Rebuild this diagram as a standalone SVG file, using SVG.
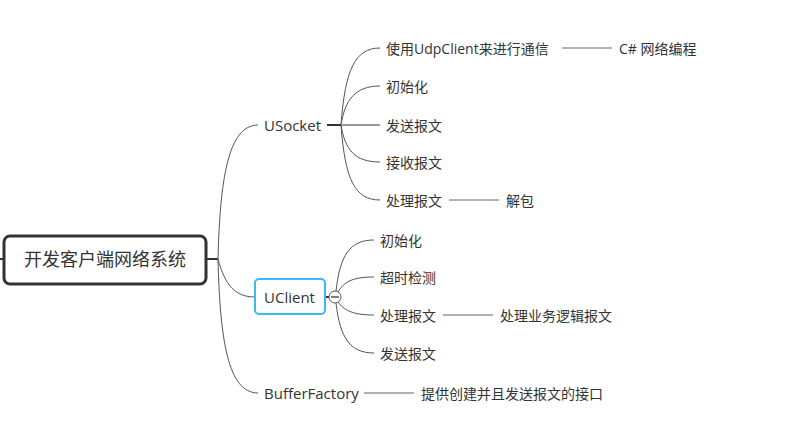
<svg xmlns="http://www.w3.org/2000/svg" width="810" height="430" viewBox="0 0 810 430">
<style>
text{font-family:"Open Sans","Noto Sans CJK SC",sans-serif;fill:#333;dominant-baseline:central}
.t{font-size:14px}
.m{font-size:15px}
.c{fill:none;stroke:#555;stroke-width:1}
.s{fill:none;stroke:#666;stroke-width:1}
</style>
<rect width="810" height="430" fill="#fff"/>
<g id="connectors">
<line x1="0" y1="259" x2="4" y2="259" stroke="#333" stroke-width="2"/>
<line x1="206" y1="259" x2="218" y2="259" stroke="#333" stroke-width="2"/>
<path class="c" d="M218 259 C220 180 228 125 258 125"/>
<path class="c" d="M218 259 C225 285 235 297 255 297"/>
<path class="c" d="M218 259 C220 340 228 393 258 393"/>
<line x1="327" y1="125" x2="341" y2="125" stroke="#333" stroke-width="2"/>
<path class="c" d="M341 125 C345 70 355 48 380 48"/>
<path class="c" d="M341 125 C345 100 355 86 380 86"/>
<line x1="341" y1="125" x2="380" y2="125" stroke="#999" stroke-width="2"/>
<path class="c" d="M341 125 C345 150 355 162 380 162"/>
<path class="c" d="M341 125 C345 180 355 200 380 200"/>
<line class="s" x1="562" y1="48" x2="612" y2="48"/>
<line class="s" x1="449" y1="200" x2="499" y2="200"/>
<line x1="325" y1="297" x2="329" y2="297" stroke="#333" stroke-width="2"/>
<path class="c" d="M336 291 C340 255 350 240 374 240"/>
<path class="c" d="M338 292 C344 282 352 277 374 277"/>
<path class="c" d="M338 302 C344 310 352 315 374 315"/>
<path class="c" d="M336 303 C340 338 350 353 374 353"/>
<line class="s" x1="443" y1="315" x2="493" y2="315"/>
<line class="s" x1="364" y1="393" x2="414" y2="393"/>
</g>
<g id="root">
<rect x="4" y="236" width="202" height="48" rx="6" fill="#fff" stroke="#333" stroke-width="3"/>
<text x="105" y="259" font-size="18" text-anchor="middle">开发客户端网络系统</text>
</g>
<g id="usocket"><text class="m" x="264" y="125">USocket</text></g>
<g id="uclient">
<rect x="255" y="279" width="70" height="35" rx="4" fill="#fff" stroke="#3cb9f5" stroke-width="2"/>
<text class="m" x="264" y="297">UClient</text>
<circle cx="335" cy="297" r="6" fill="#fff" stroke="#555" stroke-width="1"/>
<line x1="331" y1="297" x2="339" y2="297" stroke="#555" stroke-width="1.5"/>
</g>
<g id="bufferfactory"><text class="m" x="264" y="393">BufferFactory</text></g>
<g id="us1"><text class="t" x="386" y="48">使用UdpClient来进行通信</text></g>
<g id="us1a"><text class="t" x="619" y="48">C# 网络编程</text></g>
<g id="us2"><text class="t" x="386" y="86">初始化</text></g>
<g id="us3"><text class="t" x="386" y="125">发送报文</text></g>
<g id="us4"><text class="t" x="386" y="162">接收报文</text></g>
<g id="us5"><text class="t" x="386" y="200">处理报文</text></g>
<g id="us5a"><text class="t" x="506" y="200">解包</text></g>
<g id="uc1"><text class="t" x="380" y="240">初始化</text></g>
<g id="uc2"><text class="t" x="380" y="277">超时检测</text></g>
<g id="uc3"><text class="t" x="380" y="315">处理报文</text></g>
<g id="uc3a"><text class="t" x="500" y="315">处理业务逻辑报文</text></g>
<g id="uc4"><text class="t" x="380" y="353">发送报文</text></g>
<g id="bf1"><text class="t" x="421" y="393">提供创建并且发送报文的接口</text></g>
</svg>
